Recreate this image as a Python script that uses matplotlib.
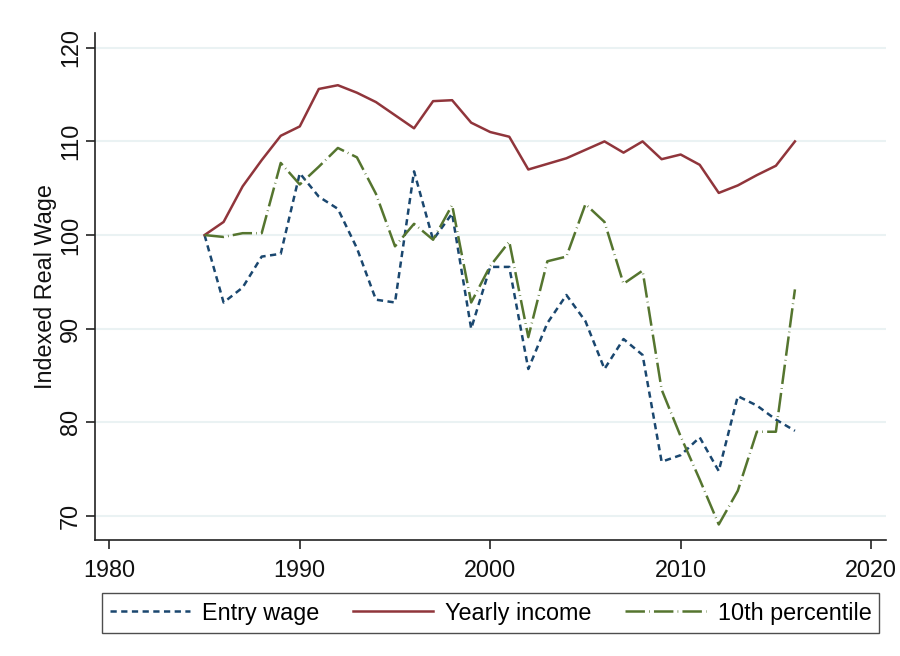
import matplotlib
matplotlib.use("Agg")
import matplotlib.pyplot as plt

YEARS = list(range(1985, 2017))

ENTRY_WAGE = [100.0, 92.8, 94.4, 97.7, 98.0, 106.6, 104.1, 102.8, 98.6, 93.1,
              92.8, 106.8, 99.5, 102.3, 90.0, 96.6, 96.6, 85.7, 90.6, 93.6,
              90.8, 85.7, 88.9, 87.2, 75.8, 76.5, 78.4, 74.8, 82.8, 81.8,
              80.3, 79.1]

YEARLY_INCOME = [100.0, 101.4, 105.2, 108.0, 110.6, 111.6, 115.6, 116.0, 115.2, 114.2,
                 112.8, 111.4, 114.3, 114.4, 112.0, 111.0, 110.5, 107.0, 107.6, 108.2,
                 109.1, 110.0, 108.8, 110.0, 108.1, 108.6, 107.5, 104.5, 105.3, 106.4,
                 107.4, 110.0]

P10 = [100.0, 99.8, 100.2, 100.2, 107.7, 105.4, 107.3, 109.3, 108.3, 104.4,
       98.8, 101.2, 99.5, 103.2, 92.8, 96.7, 99.3, 89.1, 97.2, 97.7,
       103.3, 101.4, 94.8, 96.2, 83.5, 78.5, 73.9, 69.1, 72.7, 79.0,
       79.0, 94.2]

X_TICKS = [1980, 1990, 2000, 2010, 2020]
Y_TICKS = [70, 80, 90, 100, 110, 120]

NAVY = '#1a476f'
MAROON = '#90353b'
FOREST = '#55752f'
GRID = '#eaf2f3'
FS = 16.8

plt.rcParams['font.family'] = ['Liberation Sans', 'DejaVu Sans']
plt.rcParams['lines.scale_dashes'] = False

fig = plt.figure(figsize=(9, 6.56), dpi=100)
ax = fig.add_axes([0.1056, 0.1768, 0.8786, 0.7724])

ax.plot(YEARS, ENTRY_WAGE, color=NAVY, lw=1.8, linestyle=(0, (4.5, 3.2)), label='Entry wage')
ax.plot(YEARS, YEARLY_INCOME, color=MAROON, lw=1.8, label='Yearly income')
ax.plot(YEARS, P10, color=FOREST, lw=1.8, linestyle=(0, (14, 3, 0.5, 3)), label='10th percentile')

ax.set_xlim(1979.25, 2020.77)
ax.set_ylim(67.44, 121.54)
ax.set_xticks(X_TICKS)
ax.set_yticks(Y_TICKS)
ax.set_yticklabels([str(v) for v in Y_TICKS], rotation=90, va='center')

ax.grid(axis='y', color=GRID, lw=1.5)
ax.set_axisbelow(True)

for side in ['top', 'right']:
    ax.spines[side].set_visible(False)
for side in ['left', 'bottom']:
    ax.spines[side].set_color('#222222')
    ax.spines[side].set_linewidth(1.2)

ax.tick_params(axis='both', labelsize=FS, length=6.5, width=1.2, color='#222222',
               labelcolor='#111111')
ax.tick_params(axis='x', pad=7)
ax.tick_params(axis='y', pad=3)
ax.set_ylabel('Indexed Real Wage', fontsize=FS, color='#111111', labelpad=1)

leg = fig.legend(loc='center', bbox_to_anchor=(0.545, 0.0655), ncol=3, fontsize=FS,
                 frameon=True, fancybox=False, edgecolor='#222222', handlelength=3.45,
                 handletextpad=0.5, columnspacing=1.45, borderpad=0.35)
leg.get_frame().set_linewidth(1.0)

fig.savefig('out.png', dpi=100)
